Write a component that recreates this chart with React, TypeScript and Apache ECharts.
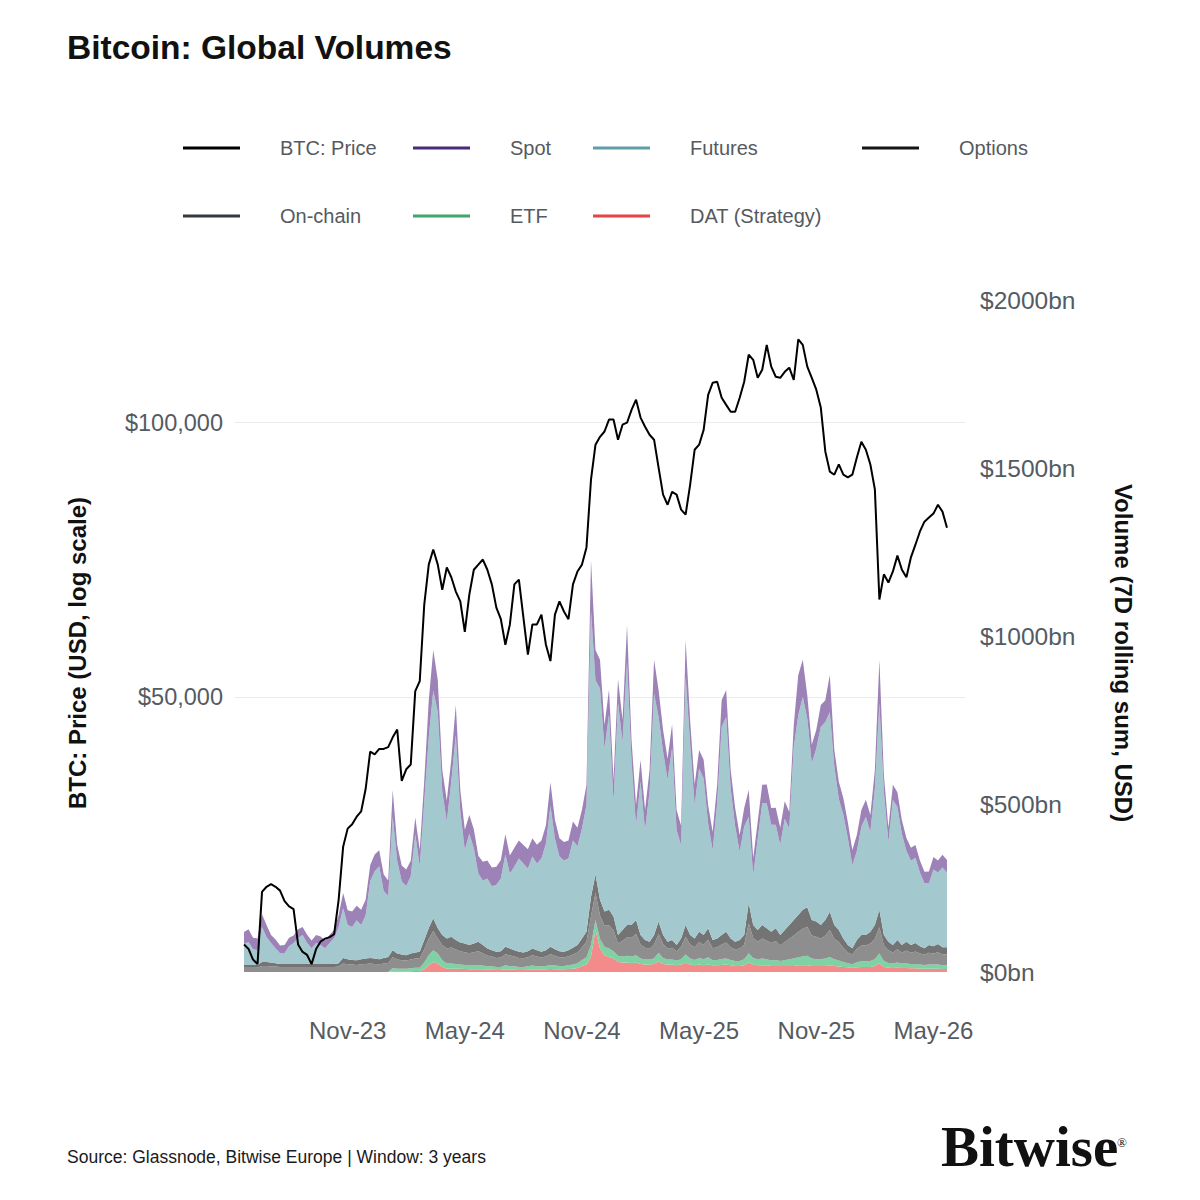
import React, { useEffect, useRef } from "react";
import * as echarts from "echarts";

// ---- data (weekly samples) ----
const START_DATE = "2023-05-25"; // first weekly sample
const PAD_BEFORE = 2; // empty weeks shown before the first sample
const PAD_AFTER = 4; // empty weeks shown after the last sample

const PRICE = [
  26800, 26500, 25800, 25500, 30600, 31000, 31200, 31000, 30700, 29900,
  29500, 29300, 26800, 26300, 26100, 25500, 26500, 27000, 27200, 27300,
  27500, 30000, 34300, 35900, 36300, 37000, 37500, 39700, 43600, 43300,
  43900, 43900, 44100, 45200, 46100, 40500, 41700, 42200, 50800, 52100,
  63200, 69900, 72600, 69900, 65600, 69400, 67700, 65300, 63700, 59000,
  64800, 69000, 69900, 70800, 69000, 66500, 62700, 60900, 57100, 60100,
  66500, 67300, 61200, 55700, 60100, 60100, 61600, 57100, 54800, 61600,
  63700, 62100, 60900, 66500, 68700, 69900, 73000, 86600, 94600, 96500,
  97800, 100800, 100800, 95800, 99500, 100000, 103300, 106000, 101300, 99000,
  97000, 95800, 89300, 83400, 81300, 84000, 83400, 80300, 79300, 85500,
  93400, 94600, 98200, 107300, 110600, 110900, 106500, 104600, 102800, 102800,
  106500, 110900, 118700, 117200, 112000, 114300, 121700, 115200, 112300, 112000,
  113700, 114900, 111400, 123400, 121700, 115200, 112000, 108700, 103900, 93000,
  88400, 87700, 90000, 87700, 87100, 87700, 91600, 95300, 93400, 90000,
  84500, 64000, 68200, 66800, 68700, 71500, 69000, 67700, 71200, 73500,
  76000, 77900, 78700, 79500, 81300, 79900, 76700,
];

const SPOT = [
  36, 38, 34, 35, 38, 36, 24, 26, 23, 24,
  25, 23, 26, 24, 25, 23, 24, 26, 23, 25,
  24, 36, 45, 44, 46, 43, 45, 47, 48, 50,
  47, 49, 46, 80, 48, 47, 49, 46, 50, 48,
  65, 110, 120, 95, 64, 62, 66, 90, 64, 60,
  55, 57, 53, 56, 54, 56, 53, 55, 60, 54,
  56, 53, 55, 57, 54, 56, 53, 55, 70, 56,
  54, 55, 53, 57, 55, 56, 60, 150, 90, 85,
  70, 75, 65, 70, 65, 110, 65, 60, 64, 60,
  64, 100, 80, 64, 62, 70, 60, 58, 110, 70,
  60, 55, 56, 54, 55, 56, 80, 80, 55, 54,
  50, 55, 80, 50, 52, 55, 56, 50, 51, 50,
  52, 50, 65, 120, 110, 70, 55, 56, 65, 65,
  110, 50, 51, 50, 48, 45, 48, 50, 51, 50,
  55, 130, 50, 42, 45, 44, 42, 38, 39, 38,
  36, 34, 35, 37, 36, 38, 37,
];

const FUTURES = [
  62, 68, 47, 44, 104, 74, 58, 45, 32, 32,
  53, 62, 77, 86, 62, 47, 62, 56, 47, 62,
  77, 108, 148, 102, 98, 119, 102, 129, 228, 260,
  277, 199, 181, 397, 275, 218, 206, 230, 352, 255,
  411, 568, 678, 644, 427, 348, 462, 610, 390, 278,
  332, 283, 203, 192, 208, 190, 200, 216, 275, 223,
  249, 278, 265, 246, 274, 258, 278, 317, 420, 329,
  282, 272, 273, 319, 294, 327, 377, 853, 578, 629,
  485, 581, 341, 691, 560, 783, 485, 282, 457, 327,
  447, 719, 609, 546, 483, 572, 342, 277, 738, 570,
  397, 486, 466, 312, 267, 402, 619, 639, 446, 343,
  263, 323, 257, 149, 271, 362, 372, 318, 308, 269,
  331, 286, 515, 594, 634, 561, 466, 515, 590, 589,
  595, 471, 390, 368, 318, 247, 265, 322, 352, 297,
  406, 614, 426, 297, 432, 396, 330, 271, 251, 254,
  219, 193, 184, 228, 213, 237, 222,
];

const OPTIONS = [
  8, 8, 8, 8, 12, 12, 11, 10, 9, 9,
  9, 9, 9, 9, 9, 9, 9, 9, 9, 9,
  9, 10, 17, 15, 14, 14, 15, 16, 17, 16,
  15, 17, 18, 21, 18, 17, 16, 18, 18, 19,
  27, 32, 38, 30, 30, 30, 32, 28, 26, 26,
  24, 26, 28, 24, 21, 19, 18, 19, 22, 21,
  19, 18, 17, 18, 20, 19, 17, 19, 22, 20,
  18, 17, 18, 20, 22, 26, 30, 57, 54, 47,
  42, 46, 41, 25, 32, 37, 38, 42, 28, 23,
  21, 28, 37, 27, 21, 23, 18, 25, 35, 28,
  26, 31, 29, 34, 24, 26, 28, 32, 26, 23,
  25, 29, 60, 39, 35, 40, 37, 34, 38, 31,
  36, 41, 46, 50, 56, 58, 46, 45, 41, 46,
  54, 41, 36, 28, 22, 19, 26, 31, 31, 35,
  41, 52, 31, 25, 22, 27, 22, 26, 23, 25,
  22, 20, 23, 22, 24, 22, 22,
];

const ONCHAIN = [
  13, 13, 13, 13, 18, 18, 17, 16, 15, 15,
  15, 15, 15, 15, 15, 15, 15, 15, 15, 15,
  15, 16, 25, 23, 22, 21, 23, 24, 25, 24,
  23, 25, 27, 32, 27, 25, 24, 26, 27, 28,
  40, 49, 57, 45, 45, 45, 48, 43, 40, 38,
  37, 40, 42, 37, 32, 29, 27, 28, 33, 32,
  29, 27, 26, 27, 31, 29, 26, 28, 32, 29,
  26, 25, 27, 30, 32, 38, 46, 86, 81, 70,
  63, 69, 62, 37, 47, 55, 56, 63, 42, 35,
  32, 42, 56, 41, 32, 35, 28, 37, 53, 42,
  38, 47, 43, 52, 36, 38, 43, 48, 38, 34,
  37, 43, 89, 59, 52, 60, 55, 52, 56, 46,
  54, 61, 69, 76, 83, 87, 69, 67, 61, 69,
  80, 61, 55, 42, 32, 29, 40, 47, 47, 52,
  61, 78, 46, 38, 33, 40, 33, 38, 34, 37,
  33, 30, 35, 33, 37, 32, 32,
];

const ETF = [
  0, 0, 0, 0, 0, 0, 0, 0, 0, 0,
  0, 0, 0, 0, 0, 0, 0, 0, 0, 0,
  0, 0, 0, 0, 0, 0, 0, 0, 0, 0,
  0, 0, 0, 10, 8, 8, 8, 9, 10, 10,
  20, 30, 35, 30, 20, 15, 15, 14, 12, 12,
  11, 11, 12, 11, 10, 10, 9, 9, 12, 10,
  10, 9, 9, 10, 11, 10, 10, 10, 12, 11,
  10, 10, 11, 12, 14, 18, 22, 35, 30, 28,
  25, 25, 22, 18, 18, 20, 20, 22, 16, 15,
  15, 16, 25, 18, 15, 15, 14, 16, 24, 18,
  16, 20, 18, 22, 15, 16, 18, 18, 16, 15,
  15, 18, 28, 20, 18, 20, 18, 16, 18, 15,
  17, 20, 22, 24, 26, 28, 22, 20, 20, 22,
  25, 20, 18, 15, 12, 11, 15, 17, 17, 18,
  20, 30, 18, 14, 13, 15, 13, 14, 12, 13,
  12, 11, 12, 12, 12, 11, 11,
];

const DAT = [
  0, 0, 0, 0, 0, 0, 0, 0, 0, 0,
  0, 0, 0, 0, 0, 0, 0, 0, 0, 0,
  0, 0, 0, 0, 0, 0, 0, 0, 0, 0,
  0, 0, 0, 2, 2, 2, 2, 2, 3, 3,
  8, 20, 30, 25, 15, 10, 10, 10, 10, 9,
  8, 8, 8, 8, 7, 7, 6, 6, 8, 7,
  7, 6, 6, 7, 8, 7, 7, 8, 9, 8,
  8, 8, 9, 10, 12, 18, 22, 45, 125, 70,
  50, 45, 40, 30, 28, 28, 26, 28, 24, 22,
  22, 24, 32, 24, 22, 22, 20, 22, 28, 22,
  20, 22, 20, 22, 20, 20, 21, 22, 20, 18,
  18, 20, 28, 22, 20, 20, 20, 18, 18, 18,
  18, 18, 18, 20, 20, 20, 18, 18, 18, 18,
  20, 18, 16, 15, 14, 12, 14, 15, 15, 15,
  18, 25, 15, 13, 12, 13, 12, 12, 11, 11,
  10, 10, 10, 10, 10, 9, 9,
];

const X_TICKS = ["2023-11-01", "2024-05-01", "2024-11-01", "2025-05-01", "2025-11-01", "2026-05-01"];
const X_TICK_LABELS = ["Nov-23", "May-24", "Nov-24", "May-25", "Nov-25", "May-26"];
const PRICE_TICKS = [50000, 100000];
const PRICE_MIN = 25000;
const PRICE_MAX = 136300;
const VOL_MIN = 0;
const VOL_MAX = 2000;
const VOL_STEP = 500;

const SERIES_NAMES = {
  price: "BTC: Price",
  spot: "Spot",
  futures: "Futures",
  options: "Options",
  onchain: "On-chain",
  etf: "ETF",
  dat: "DAT (Strategy)",
};

const FONT = '"Liberation Sans", Arial, sans-serif';
const DAY = 86400000;

function utc(s: string): number {
  const [y, m, d] = s.split("-").map(Number);
  return Date.UTC(y, m - 1, d);
}

function iso(t: number): string {
  return new Date(t).toISOString().slice(0, 10);
}

export default function App() {
  const ref = useRef<HTMLDivElement>(null);

  useEffect(() => {
    document.body.style.margin = "0";
    if (!ref.current) return;
    const chart = echarts.init(ref.current, undefined, { renderer: "svg" });

    // weekly category axis: padding weeks + samples
    const n = PRICE.length;
    const start = utc(START_DATE);
    const categories: string[] = [];
    for (let i = -PAD_BEFORE; i < n + PAD_AFTER; i++) categories.push(iso(start + i * 7 * DAY));
    const pad = (arr: number[]) => [
      ...new Array(PAD_BEFORE).fill(null),
      ...arr,
      ...new Array(PAD_AFTER).fill(null),
    ];

    // category index nearest to each tick date
    const tickIndex: Record<number, string> = {};
    X_TICKS.forEach((d, k) => {
      const t = utc(d);
      let best = 0;
      let bestDiff = Infinity;
      categories.forEach((c, i) => {
        const diff = Math.abs(utc(c) - t);
        if (diff < bestDiff) {
          bestDiff = diff;
          best = i;
        }
      });
      tickIndex[best] = X_TICK_LABELS[k];
    });

    const legendDefs = [
      { name: SERIES_NAMES.price, color: "#000000", left: 183, top: 136 },
      { name: SERIES_NAMES.spot, color: "#4a2a7a", left: 413, top: 136 },
      { name: SERIES_NAMES.futures, color: "#5e9ea8", left: 593, top: 136 },
      { name: SERIES_NAMES.options, color: "#151515", left: 862, top: 136 },
      { name: SERIES_NAMES.onchain, color: "#323a40", left: 183, top: 204 },
      { name: SERIES_NAMES.etf, color: "#3ea56b", left: 413, top: 204 },
      { name: SERIES_NAMES.dat, color: "#e84343", left: 593, top: 204 },
    ];

    const area = (name: string, data: number[], color: string, lineColor: string) => ({
      name,
      type: "line",
      stack: "vol",
      yAxisIndex: 1,
      data: pad(data),
      symbol: "none",
      showSymbol: false,
      silent: true,
      itemStyle: { color: lineColor },
      lineStyle: { width: 0, color: lineColor },
      areaStyle: { color, opacity: 1 },
      emphasis: { disabled: true },
      z: 2,
    });

    const option: any = {
      animation: false,
      textStyle: { fontFamily: FONT },
      grid: { left: 235, right: 235, top: 300, bottom: 228, containLabel: false, outerBoundsMode: "none" },
      legend: legendDefs.map((l) => ({
        data: [{ name: l.name, icon: "rect", itemStyle: { color: l.color, borderWidth: 0 } }],
        left: l.left,
        top: l.top,
        padding: 0,
        itemWidth: 57,
        itemHeight: 3,
        selectedMode: false,
        textStyle: { color: "#555a60", fontSize: 20, fontFamily: FONT, lineHeight: 24, padding: [0, 0, 0, 35] },
      })),
      xAxis: {
        type: "category",
        data: categories,
        boundaryGap: false,
        axisLine: { show: false },
        axisTick: { show: false },
        splitLine: { show: false },
        axisLabel: {
          interval: (index: number) => tickIndex[index] !== undefined,
          margin: 46,
          color: "#555b62",
          fontSize: 24,
          fontFamily: FONT,
          formatter: (_v: string, index: number) => tickIndex[index] ?? "",
        },
      },
      yAxis: [
        {
          type: "log",
          logBase: 10,
          min: PRICE_MIN,
          max: PRICE_MAX,
          position: "left",
          axisLine: { show: false },
          axisTick: { show: false, customValues: PRICE_TICKS },
          splitLine: { show: true, lineStyle: { color: "#ececec", width: 1 } },
          axisLabel: {
            customValues: PRICE_TICKS,
            margin: 12,
            color: "#555b62",
            fontSize: 23.5,
            fontFamily: FONT,
            formatter: (v: number) => "$" + Math.round(v).toLocaleString("en-US"),
          },
        },
        {
          type: "value",
          min: VOL_MIN,
          max: VOL_MAX,
          interval: VOL_STEP,
          position: "right",
          axisLine: { show: false },
          axisTick: { show: false },
          splitLine: { show: false },
          axisLabel: {
            margin: 15,
            color: "#555b62",
            fontSize: 24.5,
            fontFamily: FONT,
            formatter: (v: number) => "$" + v + "bn",
          },
        },
      ],
      graphic: [
        {
          type: "text",
          x: 67,
          y: 47,
          style: { text: "Bitcoin: Global Volumes", font: `bold 33.5px ${FONT}`, fill: "#111111", verticalAlign: "middle", align: "left" },
        },
        {
          type: "text",
          x: 77,
          y: 653,
          rotation: Math.PI / 2,
          style: { text: "BTC: Price (USD, log scale)", font: `bold 24px ${FONT}`, fill: "#111111", align: "center", verticalAlign: "middle" },
        },
        {
          type: "text",
          x: 1123,
          y: 653,
          rotation: -Math.PI / 2,
          style: { text: "Volume (7D rolling sum, USD)", font: `bold 24px ${FONT}`, fill: "#111111", align: "center", verticalAlign: "middle" },
        },
        {
          type: "text",
          x: 67,
          y: 1157,
          style: { text: "Source: Glassnode, Bitwise Europe | Window: 3 years", font: `17.5px ${FONT}`, fill: "#1a1a1a", align: "left", verticalAlign: "middle" },
        },
        {
          type: "text",
          x: 941,
          y: 1146,
          style: { text: "Bitwise", font: `bold 57px "Liberation Serif", "DejaVu Serif", serif`, fill: "#111111", align: "left", verticalAlign: "middle" },
        },
        {
          type: "text",
          x: 1122,
          y: 1142,
          style: { text: "®", font: `13px "Liberation Serif", serif`, fill: "#111111", align: "center", verticalAlign: "middle" },
        },
      ],
      series: [
        area(SERIES_NAMES.dat, DAT, "#f38b8b", "#e84343"),
        area(SERIES_NAMES.etf, ETF, "#7ed2a4", "#3ea56b"),
        area(SERIES_NAMES.onchain, ONCHAIN, "#8e8e8e", "#323a40"),
        area(SERIES_NAMES.options, OPTIONS, "#747474", "#151515"),
        area(SERIES_NAMES.futures, FUTURES, "#a3c8ce", "#5e9ea8"),
        area(SERIES_NAMES.spot, SPOT, "#9c82b7", "#4a2a7a"),
        {
          name: SERIES_NAMES.price,
          type: "line",
          yAxisIndex: 0,
          data: pad(PRICE),
          symbol: "none",
          showSymbol: false,
          silent: true,
          itemStyle: { color: "#000000" },
          lineStyle: { width: 2, color: "#000000" },
          emphasis: { disabled: true },
          z: 5,
        },
      ],
    };

    chart.setOption(option);
    return () => chart.dispose();
  }, []);

  return <div ref={ref} style={{ width: 1200, height: 1200 }} />;
}
